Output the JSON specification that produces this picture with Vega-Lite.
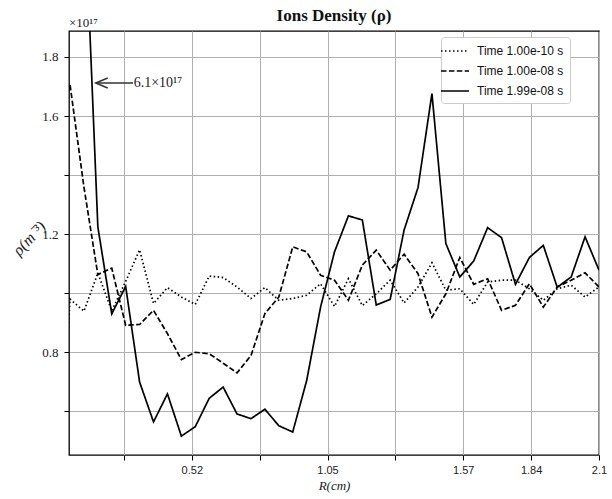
{
  "$schema": "https://vega.github.io/schema/vega-lite/v6.json",
  "width": 530,
  "height": 424,
  "autosize": {"type": "none"},
  "padding": {"left": 69, "top": 31, "right": 13, "bottom": 44},
  "background": "white",
  "title": {"text": "Ions Density (ρ)", "font": "Liberation Serif", "fontSize": 17, "fontWeight": "bold", "anchor": "middle", "offset": -8, "color": "#111"},
  "config": {
    "view": {"stroke": "black", "strokeWidth": 1.3},
    "axis": {"domain": false, "grid": true, "gridColor": "#b0b0b0", "gridWidth": 1, "tickColor": "black", "tickSize": 5, "tickWidth": 1, "labelColor": "#222", "titleColor": "#222", "titleFontWeight": "normal"}
  },
  "datasets": {
    "series": [
      {"R": 0, "s": "Time 1.00e-10 s", "v": 0.1},
      {"R": 0.05385, "s": "Time 1.00e-10 s", "v": 0.98},
      {"R": 0.10769, "s": "Time 1.00e-10 s", "v": 0.939},
      {"R": 0.16154, "s": "Time 1.00e-10 s", "v": 1.068},
      {"R": 0.21538, "s": "Time 1.00e-10 s", "v": 0.94},
      {"R": 0.26923, "s": "Time 1.00e-10 s", "v": 1.04},
      {"R": 0.32308, "s": "Time 1.00e-10 s", "v": 1.147},
      {"R": 0.37692, "s": "Time 1.00e-10 s", "v": 0.965},
      {"R": 0.43077, "s": "Time 1.00e-10 s", "v": 1.019},
      {"R": 0.48462, "s": "Time 1.00e-10 s", "v": 0.987},
      {"R": 0.53846, "s": "Time 1.00e-10 s", "v": 0.962},
      {"R": 0.59231, "s": "Time 1.00e-10 s", "v": 1.058},
      {"R": 0.64615, "s": "Time 1.00e-10 s", "v": 1.053},
      {"R": 0.7, "s": "Time 1.00e-10 s", "v": 1.021},
      {"R": 0.75385, "s": "Time 1.00e-10 s", "v": 0.982},
      {"R": 0.80769, "s": "Time 1.00e-10 s", "v": 1.019},
      {"R": 0.86154, "s": "Time 1.00e-10 s", "v": 0.976},
      {"R": 0.91538, "s": "Time 1.00e-10 s", "v": 0.982},
      {"R": 0.96923, "s": "Time 1.00e-10 s", "v": 0.993},
      {"R": 1.02308, "s": "Time 1.00e-10 s", "v": 1.032},
      {"R": 1.07692, "s": "Time 1.00e-10 s", "v": 0.955},
      {"R": 1.13077, "s": "Time 1.00e-10 s", "v": 1.049},
      {"R": 1.18462, "s": "Time 1.00e-10 s", "v": 0.958},
      {"R": 1.23846, "s": "Time 1.00e-10 s", "v": 0.998},
      {"R": 1.29231, "s": "Time 1.00e-10 s", "v": 1.044},
      {"R": 1.34615, "s": "Time 1.00e-10 s", "v": 0.967},
      {"R": 1.4, "s": "Time 1.00e-10 s", "v": 1.021},
      {"R": 1.45385, "s": "Time 1.00e-10 s", "v": 1.103},
      {"R": 1.50769, "s": "Time 1.00e-10 s", "v": 1.01},
      {"R": 1.56154, "s": "Time 1.00e-10 s", "v": 1.015},
      {"R": 1.61538, "s": "Time 1.00e-10 s", "v": 0.962},
      {"R": 1.66923, "s": "Time 1.00e-10 s", "v": 1.038},
      {"R": 1.72308, "s": "Time 1.00e-10 s", "v": 1.044},
      {"R": 1.77692, "s": "Time 1.00e-10 s", "v": 1.044},
      {"R": 1.83077, "s": "Time 1.00e-10 s", "v": 1.015},
      {"R": 1.88462, "s": "Time 1.00e-10 s", "v": 0.976},
      {"R": 1.93846, "s": "Time 1.00e-10 s", "v": 1.015},
      {"R": 1.99231, "s": "Time 1.00e-10 s", "v": 1.027},
      {"R": 2.04615, "s": "Time 1.00e-10 s", "v": 0.987},
      {"R": 2.1, "s": "Time 1.00e-10 s", "v": 1.021},

      {"R": 0, "s": "Time 1.00e-08 s", "v": 1.5},
      {"R": 0.05385, "s": "Time 1.00e-08 s", "v": 1.707},
      {"R": 0.10769, "s": "Time 1.00e-08 s", "v": 1.36},
      {"R": 0.16154, "s": "Time 1.00e-08 s", "v": 1.063},
      {"R": 0.21538, "s": "Time 1.00e-08 s", "v": 1.085},
      {"R": 0.26923, "s": "Time 1.00e-08 s", "v": 0.891},
      {"R": 0.32308, "s": "Time 1.00e-08 s", "v": 0.894},
      {"R": 0.37692, "s": "Time 1.00e-08 s", "v": 0.942},
      {"R": 0.43077, "s": "Time 1.00e-08 s", "v": 0.863},
      {"R": 0.48462, "s": "Time 1.00e-08 s", "v": 0.775},
      {"R": 0.53846, "s": "Time 1.00e-08 s", "v": 0.8},
      {"R": 0.59231, "s": "Time 1.00e-08 s", "v": 0.795},
      {"R": 0.64615, "s": "Time 1.00e-08 s", "v": 0.763},
      {"R": 0.7, "s": "Time 1.00e-08 s", "v": 0.73},
      {"R": 0.75385, "s": "Time 1.00e-08 s", "v": 0.789},
      {"R": 0.80769, "s": "Time 1.00e-08 s", "v": 0.931},
      {"R": 0.86154, "s": "Time 1.00e-08 s", "v": 0.987},
      {"R": 0.91538, "s": "Time 1.00e-08 s", "v": 1.157},
      {"R": 0.96923, "s": "Time 1.00e-08 s", "v": 1.14},
      {"R": 1.02308, "s": "Time 1.00e-08 s", "v": 1.061},
      {"R": 1.07692, "s": "Time 1.00e-08 s", "v": 1.044},
      {"R": 1.13077, "s": "Time 1.00e-08 s", "v": 0.976},
      {"R": 1.18462, "s": "Time 1.00e-08 s", "v": 1.095},
      {"R": 1.23846, "s": "Time 1.00e-08 s", "v": 1.146},
      {"R": 1.29231, "s": "Time 1.00e-08 s", "v": 1.078},
      {"R": 1.34615, "s": "Time 1.00e-08 s", "v": 1.132},
      {"R": 1.4, "s": "Time 1.00e-08 s", "v": 1.066},
      {"R": 1.45385, "s": "Time 1.00e-08 s", "v": 0.919},
      {"R": 1.50769, "s": "Time 1.00e-08 s", "v": 0.998},
      {"R": 1.56154, "s": "Time 1.00e-08 s", "v": 1.121},
      {"R": 1.61538, "s": "Time 1.00e-08 s", "v": 1.03},
      {"R": 1.66923, "s": "Time 1.00e-08 s", "v": 1.049},
      {"R": 1.72308, "s": "Time 1.00e-08 s", "v": 0.942},
      {"R": 1.77692, "s": "Time 1.00e-08 s", "v": 0.959},
      {"R": 1.83077, "s": "Time 1.00e-08 s", "v": 1.032},
      {"R": 1.88462, "s": "Time 1.00e-08 s", "v": 0.953},
      {"R": 1.93846, "s": "Time 1.00e-08 s", "v": 1.021},
      {"R": 1.99231, "s": "Time 1.00e-08 s", "v": 1.044},
      {"R": 2.04615, "s": "Time 1.00e-08 s", "v": 1.069},
      {"R": 2.1, "s": "Time 1.00e-08 s", "v": 1.021},

      {"R": 0, "s": "Time 1.99e-08 s", "v": 6.1},
      {"R": 0.05385, "s": "Time 1.99e-08 s", "v": 3.6},
      {"R": 0.10769, "s": "Time 1.99e-08 s", "v": 2.38},
      {"R": 0.16154, "s": "Time 1.99e-08 s", "v": 1.225},
      {"R": 0.21538, "s": "Time 1.99e-08 s", "v": 0.93},
      {"R": 0.26923, "s": "Time 1.99e-08 s", "v": 1.023},
      {"R": 0.32308, "s": "Time 1.99e-08 s", "v": 0.699},
      {"R": 0.37692, "s": "Time 1.99e-08 s", "v": 0.564},
      {"R": 0.43077, "s": "Time 1.99e-08 s", "v": 0.659},
      {"R": 0.48462, "s": "Time 1.99e-08 s", "v": 0.516},
      {"R": 0.53846, "s": "Time 1.99e-08 s", "v": 0.548},
      {"R": 0.59231, "s": "Time 1.99e-08 s", "v": 0.644},
      {"R": 0.64615, "s": "Time 1.99e-08 s", "v": 0.682},
      {"R": 0.7, "s": "Time 1.99e-08 s", "v": 0.591},
      {"R": 0.75385, "s": "Time 1.99e-08 s", "v": 0.575},
      {"R": 0.80769, "s": "Time 1.99e-08 s", "v": 0.607},
      {"R": 0.86154, "s": "Time 1.99e-08 s", "v": 0.551},
      {"R": 0.91538, "s": "Time 1.99e-08 s", "v": 0.53},
      {"R": 0.96923, "s": "Time 1.99e-08 s", "v": 0.704},
      {"R": 1.02308, "s": "Time 1.99e-08 s", "v": 0.953},
      {"R": 1.07692, "s": "Time 1.99e-08 s", "v": 1.14},
      {"R": 1.13077, "s": "Time 1.99e-08 s", "v": 1.262},
      {"R": 1.18462, "s": "Time 1.99e-08 s", "v": 1.248},
      {"R": 1.23846, "s": "Time 1.99e-08 s", "v": 0.96},
      {"R": 1.29231, "s": "Time 1.99e-08 s", "v": 0.979},
      {"R": 1.34615, "s": "Time 1.99e-08 s", "v": 1.214},
      {"R": 1.4, "s": "Time 1.99e-08 s", "v": 1.358},
      {"R": 1.45385, "s": "Time 1.99e-08 s", "v": 1.676},
      {"R": 1.50769, "s": "Time 1.99e-08 s", "v": 1.168},
      {"R": 1.56154, "s": "Time 1.99e-08 s", "v": 1.055},
      {"R": 1.61538, "s": "Time 1.99e-08 s", "v": 1.109},
      {"R": 1.66923, "s": "Time 1.99e-08 s", "v": 1.222},
      {"R": 1.72308, "s": "Time 1.99e-08 s", "v": 1.188},
      {"R": 1.77692, "s": "Time 1.99e-08 s", "v": 1.03},
      {"R": 1.83077, "s": "Time 1.99e-08 s", "v": 1.121},
      {"R": 1.88462, "s": "Time 1.99e-08 s", "v": 1.162},
      {"R": 1.93846, "s": "Time 1.99e-08 s", "v": 1.02},
      {"R": 1.99231, "s": "Time 1.99e-08 s", "v": 1.055},
      {"R": 2.04615, "s": "Time 1.99e-08 s", "v": 1.191},
      {"R": 2.1, "s": "Time 1.99e-08 s", "v": 1.078}
    ],
    "offsetText": [{"R": 0.05, "v": 1.888, "label": "×10¹⁷"}],
    "arrowLine": [{"R": 0.158, "R2": 0.2976, "v": 1.712}],
    "arrowHead": [{"R": 0.1765, "v": 1.712}],
    "arrowText": [{"R": 0.3, "v": 1.712, "label": "6.1×10¹⁷"}]
  },
  "layer": [
    {
      "data": {"name": "series"},
      "mark": {"type": "line", "clip": true, "color": "black", "strokeWidth": 1.7},
      "encoding": {
        "x": {"field": "R", "type": "quantitative",
          "scale": {"domain": [0.05, 2.1], "nice": false, "zero": false},
          "axis": {"values": [0.2625, 0.525, 0.7875, 1.05, 1.3125, 1.575, 1.8375, 2.1],
            "labelExpr": "datum.value == 0.525 ? '0.52' : datum.value == 1.05 ? '1.05' : datum.value == 1.575 ? '1.57' : datum.value == 1.8375 ? '1.84' : datum.value == 2.1 ? '2.1' : ''",
            "labelFont": "Liberation Sans", "labelFontSize": 11, "labelPadding": 4, "labelFlush": false,
            "title": "R(cm)", "titleFont": "Liberation Serif", "titleFontStyle": "italic", "titleFontSize": 13, "titlePadding": 4}},
        "y": {"field": "v", "type": "quantitative",
          "scale": {"domain": [0.452, 1.888], "nice": false, "zero": false},
          "axis": {"values": [0.6, 0.8, 1.0, 1.2, 1.4, 1.6, 1.8],
            "labelExpr": "(datum.value == 0.8 || datum.value == 1.2 || datum.value == 1.6 || datum.value == 1.8) ? format(datum.value, '.1f') : ''",
            "labelFont": "Liberation Serif", "labelFontSize": 13, "labelPadding": 6,
            "title": "ρ(m⁻³)", "titleFont": "Liberation Serif", "titleFontStyle": "italic", "titleFontSize": 16,
            "titleAngle": -47, "titleX": -40, "titleY": 207, "titleAlign": "center", "titleBaseline": "middle"}},
        "strokeDash": {"field": "s", "type": "nominal",
          "scale": {"domain": ["Time 1.00e-10 s", "Time 1.00e-08 s", "Time 1.99e-08 s"], "range": [[1.5, 2.5], [5.5, 2.4], [1, 0]]},
          "legend": {"title": null, "orient": "none", "legendX": 372, "legendY": 6,
            "fillColor": "white", "strokeColor": "#cccccc", "cornerRadius": 3, "padding": 6,
            "symbolType": "M-2,0L2,0", "symbolSize": 196, "symbolStrokeWidth": 1.7, "symbolStrokeColor": "black",
            "labelFont": "Liberation Sans", "labelFontSize": 12, "labelColor": "#111", "labelOffset": 14, "rowPadding": 6}}
      }
    },
    {
      "data": {"name": "offsetText"},
      "mark": {"type": "text", "align": "left", "baseline": "bottom", "dy": -1, "font": "Liberation Serif", "fontSize": 13, "color": "#222"},
      "encoding": {"x": {"field": "R", "type": "quantitative"}, "y": {"field": "v", "type": "quantitative"}, "text": {"field": "label"}}
    },
    {
      "data": {"name": "arrowLine"},
      "mark": {"type": "rule", "color": "#333", "strokeWidth": 1.5},
      "encoding": {"x": {"field": "R", "type": "quantitative"}, "x2": {"field": "R2"}, "y": {"field": "v", "type": "quantitative"}}
    },
    {
      "data": {"name": "arrowHead"},
      "mark": {"type": "point", "shape": "M1,-0.83L-1,0L1,0.83", "filled": false, "stroke": "#333", "strokeWidth": 1.5, "size": 144, "opacity": 1},
      "encoding": {"x": {"field": "R", "type": "quantitative"}, "y": {"field": "v", "type": "quantitative"}}
    },
    {
      "data": {"name": "arrowText"},
      "mark": {"type": "text", "align": "left", "baseline": "middle", "font": "Liberation Serif", "fontSize": 14, "color": "#222"},
      "encoding": {"x": {"field": "R", "type": "quantitative"}, "y": {"field": "v", "type": "quantitative"}, "text": {"field": "label"}}
    }
  ]
}
